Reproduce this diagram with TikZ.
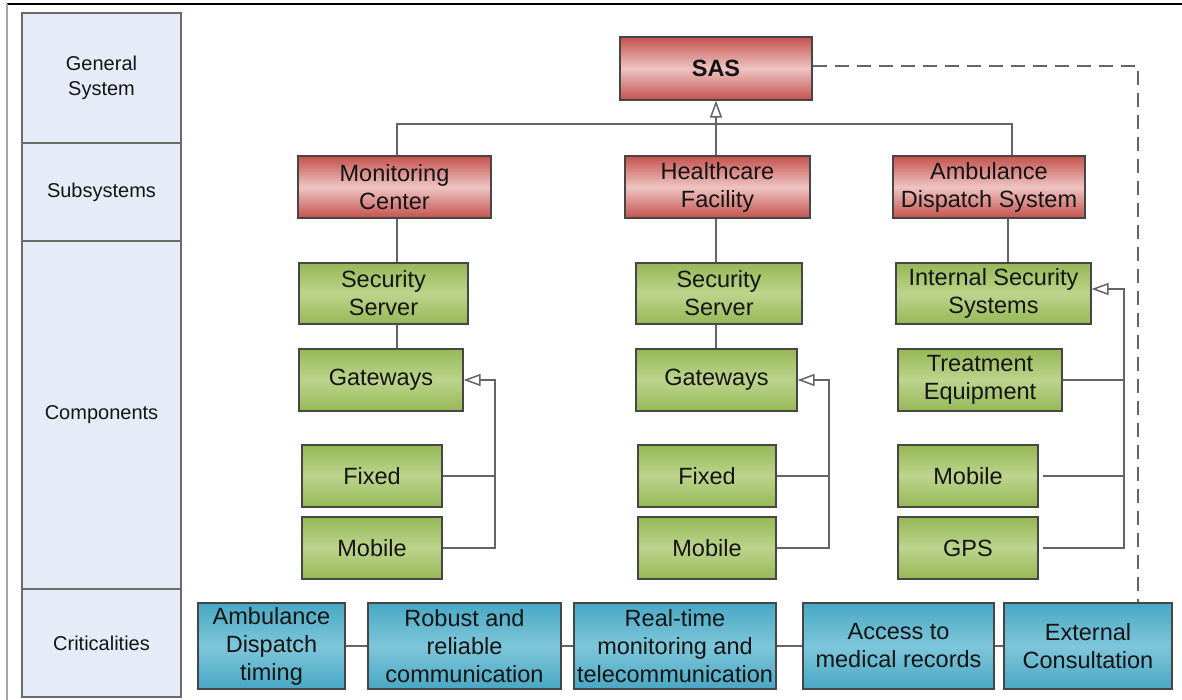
\documentclass[tikz,border=0pt]{standalone}
\usepackage{fontspec}
\setmainfont{Liberation Sans}
\usetikzlibrary{arrows.meta}
\definecolor{redE}{RGB}{196,82,78}
\definecolor{redM}{RGB}{238,196,194}
\definecolor{grnE}{RGB}{150,184,86}
\definecolor{grnM}{RGB}{188,212,140}
\definecolor{bluE}{RGB}{72,168,196}
\definecolor{bluM}{RGB}{126,198,218}
\definecolor{colF}{RGB}{230,236,247}
\definecolor{lnC}{RGB}{100,100,100}
\definecolor{bdC}{RGB}{70,70,70}
\definecolor{txC}{RGB}{20,20,20}
\tikzset{
  basebox/.style={draw=bdC, line width=1.2pt, inner sep=0pt, align=center, text=txC,
    font=\fontsize{23.5}{28}\selectfont},
  redbox/.style={basebox, top color=redE, bottom color=redE, middle color=redM},
  grnbox/.style={basebox, top color=grnE, bottom color=grnE, middle color=grnM},
  blubox/.style={basebox, top color=bluE, bottom color=bluE, middle color=bluM},
  colbox/.style={draw=bdC!80, line width=1.2pt, fill=colF, inner sep=0pt, align=center, text=txC,
    font=\fontsize{20}{25}\selectfont},
  ln/.style={draw=lnC, line width=1.5pt},
  arr/.style={-{Triangle[open, length=17pt, width=12pt, fill=white]}},
  dsh/.style={draw=lnC, line width=1.5pt, dash pattern=on 14pt off 8pt},
}
\newcommand\mybox[7]{\node[#1, minimum width={#4-#3}, minimum height={#6-#5}] (#2) at ({(#3+#4)/2},{(#5+#6)/2}) {#7};}
\begin{document}
\begin{tikzpicture}[x=1pt,y=-1pt]
\useasboundingbox (0,0) rectangle (1182,700);
% frame
\draw[black, line width=1.5pt] (7,4) -- (1182,4);
\draw[gray!70, line width=1.5pt] (7,4) -- (7,700);
% left column
\mybox{colbox}{L1}{22}{181}{13}{143}{General\\System}
\mybox{colbox}{L2}{22}{181}{143}{241}{Subsystems}
\mybox{colbox}{L3}{22}{181}{241}{589}{Components}
\mybox{colbox}{L4}{22}{181}{589}{697}{Criticalities}
% top
\mybox{redbox}{SAS}{620}{812}{37}{100}{\textbf{SAS}}
\mybox{redbox}{MC}{298}{491}{156}{218}{Monitoring\\Center}
\mybox{redbox}{HF}{625}{810}{156}{218}{Healthcare\\Facility}
\mybox{redbox}{ADS}{893}{1085}{156}{218}{Ambulance\\Dispatch System}
% components
\mybox{grnbox}{SS1}{299}{468}{263}{324}{Security\\Server}
\mybox{grnbox}{GW1}{299}{463}{349}{411}{Gateways}
\mybox{grnbox}{FX1}{302}{442}{445}{507}{Fixed}
\mybox{grnbox}{MB1}{302}{442}{517}{579}{Mobile}
\mybox{grnbox}{SS2}{636}{802}{263}{324}{Security\\Server}
\mybox{grnbox}{GW2}{636}{797}{349}{411}{Gateways}
\mybox{grnbox}{FX2}{638}{776}{445}{507}{Fixed}
\mybox{grnbox}{MB2}{638}{776}{517}{579}{Mobile}
\mybox{grnbox}{ISS}{896}{1091}{263}{324}{Internal Security\\Systems}
\mybox{grnbox}{TE}{898}{1062}{349}{411}{Treatment\\Equipment}
\mybox{grnbox}{MB3}{898}{1038}{445}{507}{Mobile}
\mybox{grnbox}{GPS}{898}{1038}{517}{579}{GPS}
% criticalities
\mybox{blubox}{CA}{198}{345}{603}{689}{Ambulance\\Dispatch\\timing}
\mybox{blubox}{CR}{368}{561}{603}{689}{Robust and\\reliable\\communication}
\mybox{blubox}{CT}{574}{776}{603}{689}{Real-time\\monitoring and\\telecommunication}
\mybox{blubox}{CM}{803}{994}{603}{689}{Access to\\medical records}
\mybox{blubox}{CE}{1004}{1172}{603}{689}{External\\Consultation}
% coordinates
\coordinate (busL) at (397,124);
\coordinate (busR) at (1012,124);
\coordinate (busM) at (716,124);
\coordinate (x3) at (1008,0);
\coordinate (c1) at (495,380);
\coordinate (c2) at (829,380);
\coordinate (c3) at (1124,289);
\coordinate (d1) at (1138,66);
% connectors top
\draw[ln] (MC.north -| busL) -- (busL) -- (busR) -- (ADS.north -| busR);
\draw[ln, arr] (busM) -- (SAS.south -| busM);
\draw[ln] (HF.north -| busM) -- (busM);
\draw[ln] (MC.south -| busL) -- (SS1.north -| busL);
\draw[ln] (SS1.south -| busL) -- (GW1.north -| busL);
\draw[ln] (HF.south -| busM) -- (SS2.north -| busM);
\draw[ln] (SS2.south -| busM) -- (GW2.north -| busM);
\draw[ln] (ADS.south -| x3) -- (ISS.north -| x3);
% gateway groups
\draw[ln] (FX1.east) -- (FX1.east -| c1);
\draw[ln, arr] (MB1.east) -| (c1) -- (GW1.east);
\draw[ln] (FX2.east) -- (FX2.east -| c2);
\draw[ln, arr] (MB2.east) -| (c2) -- (GW2.east);
\draw[ln] (TE.east) -- (TE.east -| c3);
\draw[ln] ([xshift=4pt]MB3.east) -- (MB3.east -| c3);
\draw[ln, arr] ([xshift=4pt]GPS.east) -| (c3) -- (c3 -| ISS.east);
% criticalities chain
\draw[ln] (CA) -- (CR);
\draw[ln] (CR) -- (CT);
\draw[ln] (CT) -- (CM);
\draw[ln] (CM) -- (CE);
% dashed
\draw[dsh] (SAS.east |- d1) -- (d1) -- (CE.north -| d1);
\end{tikzpicture}
\end{document}
